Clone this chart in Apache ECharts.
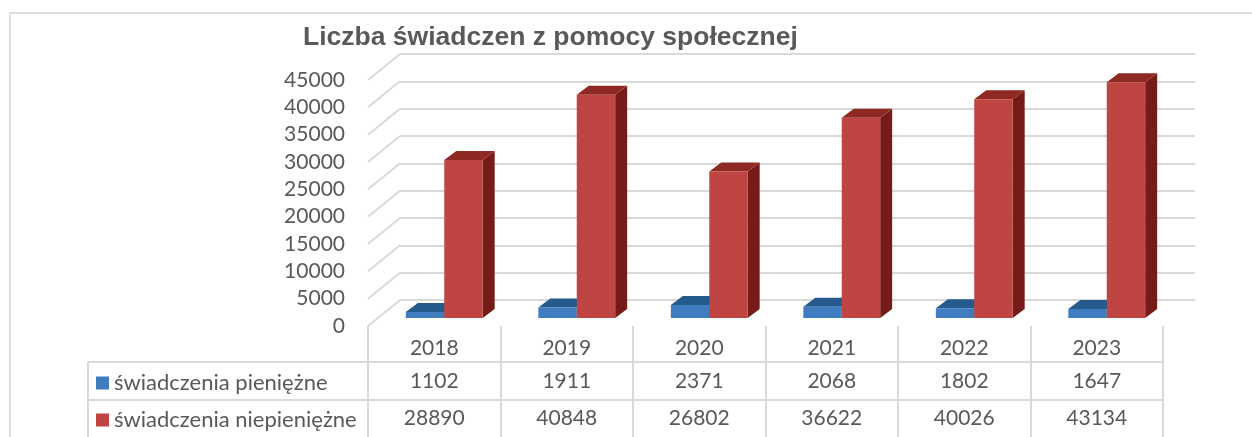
<!DOCTYPE html>
<html>
<head>
<meta charset="utf-8">
<script src="https://cdn.jsdelivr.net/npm/echarts@6/dist/echarts.min.js"></script>
<style>
html,body{margin:0;padding:0;background:#fff;}
#c{width:1252px;height:437px;}
</style>
</head>
<body>
<div id="c"></div>
<script>
const title = 'Liczba świadczen z pomocy społecznej';
const years = ['2018', '2019', '2020', '2021', '2022', '2023'];
const seriesNames = ['świadczenia pieniężne', 'świadczenia niepieniężne'];
const pieniezne = [1102, 1911, 2371, 2068, 1802, 1647];
const niepieniezne = [28890, 40848, 26802, 36622, 40026, 43134];
const yTicks = [0, 5000, 10000, 15000, 20000, 25000, 30000, 35000, 40000, 45000];

const TXT = '#595959';
const GRID = '#d9d9d9';
const FONT = 'Lato';
const colors = {
  blue: { front: '#3f7cc0', top: '#255a8c', side: '#1f4e79' },
  red: { front: '#be4541', top: '#8e2923', side: '#761c18' }
};
const DEPTH_X = 12, DEPTH_Y = -9;     // bar depth
const WALL_X = 32, WALL_Y = -26;      // front-to-back offset

function barRenderer(which, col) {
  return function (params, api) {
    const idx = api.value(0), val = api.value(1);
    const base = api.coord([idx, 0]);
    const top = api.coord([idx, val]);
    const band = api.size([1, 0])[0];
    const w = band * 0.29;
    const x0 = which === 0 ? base[0] - w : base[0];
    const x1 = x0 + w;
    const yt = top[1], yb = base[1];
    return {
      type: 'group',
      children: [
        { type: 'polygon', shape: { points: [[x1, yt], [x1 + DEPTH_X, yt + DEPTH_Y], [x1 + DEPTH_X, yb + DEPTH_Y], [x1, yb]] }, style: { fill: col.side } },
        { type: 'polygon', shape: { points: [[x0, yt], [x1, yt], [x1 + DEPTH_X, yt + DEPTH_Y], [x0 + DEPTH_X, yt + DEPTH_Y]] }, style: { fill: col.top } },
        { type: 'rect', shape: { x: x0, y: yt, width: w, height: yb - yt }, style: { fill: col.front } }
      ]
    };
  };
}

const legendCommon = {
  orient: 'vertical', left: 91, icon: 'rect', itemWidth: 13, itemHeight: 13, selectedMode: false,
  textStyle: { fontFamily: FONT, fontSize: 22, color: TXT }
};

const chart = echarts.init(document.getElementById('c'), null, { renderer: 'canvas' });
const option = {
  animation: false,
  color: [colors.blue.front, colors.red.front],
  title: {
    text: title, left: 298, top: 19,
    textStyle: { fontFamily: 'Liberation Sans', fontSize: 26.5, fontWeight: 'bold', color: TXT }
  },
  legend: [
    Object.assign({ data: [seriesNames[0]], top: 367 }, legendCommon),
    Object.assign({ data: [seriesNames[1]], top: 404 }, legendCommon)
  ],
  graphic: [
    { type: 'rect', shape: { x: 10, y: 13, width: 1400, height: 600 }, style: { fill: 'none', stroke: '#dedede', lineWidth: 2 }, silent: true },
    { type: 'line', shape: { x1: 88, y1: 362, x2: 1163, y2: 362 }, style: { stroke: GRID, lineWidth: 2 }, silent: true },
    { type: 'line', shape: { x1: 88, y1: 400, x2: 1163, y2: 400 }, style: { stroke: GRID, lineWidth: 2 }, silent: true },
    { type: 'line', shape: { x1: 88, y1: 362, x2: 88, y2: 440 }, style: { stroke: GRID, lineWidth: 2 }, silent: true }
  ],
  grid: [
    { left: 368, right: 89, top: 80, height: 246 },   // front plane
    { left: 400, right: 57, top: 54, height: 246 },   // back wall
    { left: 378, right: 79, top: 72, height: 246 }    // bar plane
  ],
  xAxis: [
    {
      gridIndex: 0, type: 'category', data: years, boundaryGap: true,
      axisLine: { show: false },
      axisTick: { show: true, length: 112, interval: 0, lineStyle: { color: GRID, width: 2 } },
      axisLabel: { show: false }
    },
    { gridIndex: 1, type: 'category', data: years, show: false },
    { gridIndex: 2, type: 'category', data: years, show: false }
  ],
  yAxis: [
    {
      gridIndex: 0, type: 'value', min: 0, max: 45000, interval: 5000,
      axisLine: { show: false }, axisTick: { show: false }, splitLine: { show: false },
      axisLabel: { margin: 23, fontFamily: FONT, fontSize: 21, color: TXT, formatter: v => String(v) }
    },
    {
      gridIndex: 1, type: 'value', min: 0, max: 45000, interval: 5000,
      axisLine: { show: false }, axisTick: { show: false }, axisLabel: { show: false },
      splitLine: { show: true, lineStyle: { color: GRID, width: 2 } }
    },
    { gridIndex: 2, type: 'value', min: 0, max: 45000, interval: 5000, show: false, splitLine: { show: false } }
  ],
  series: [
    {
      name: 'diagonals', type: 'custom', xAxisIndex: 0, yAxisIndex: 0, silent: true,
      data: yTicks.map(v => [0, v]),
      encode: { x: 0, y: 1 },
      renderItem: function (params, api) {
        const p = api.coord([api.value(0), api.value(1)]);
        const x0 = params.coordSys.x;
        return { type: 'line', shape: { x1: x0, y1: p[1], x2: x0 + WALL_X, y2: p[1] + WALL_Y }, style: { stroke: GRID, lineWidth: 2 } };
      }
    },
    {
      name: seriesNames[0], type: 'custom', xAxisIndex: 2, yAxisIndex: 2,
      itemStyle: { color: colors.blue.front },
      data: pieniezne.map((v, i) => [i, v]),
      encode: { x: 0, y: 1 },
      renderItem: barRenderer(0, colors.blue)
    },
    {
      name: seriesNames[1], type: 'custom', xAxisIndex: 2, yAxisIndex: 2,
      itemStyle: { color: colors.red.front },
      data: niepieniezne.map((v, i) => [i, v]),
      encode: { x: 0, y: 1 },
      renderItem: barRenderer(1, colors.red)
    },
    {
      name: 'table', type: 'custom', xAxisIndex: 0, yAxisIndex: 0, silent: true,
      data: years.map((y, i) => [i, 0]),
      encode: { x: 0, y: 1 },
      renderItem: function (params, api) {
        const i = api.value(0);
        const p = api.coord([i, 0]);
        const yb = params.coordSys.y + params.coordSys.height;
        const mk = (text, dy) => ({
          type: 'text', x: p[0], y: yb + dy,
          style: { text: String(text), fill: TXT, fontFamily: FONT, fontSize: 21, align: 'center', verticalAlign: 'middle' }
        });
        return { type: 'group', children: [mk(years[i], 22), mk(pieniezne[i], 55), mk(niepieniezne[i], 92)] };
      }
    }
  ]
};
chart.setOption(option);
</script>
</body>
</html>
